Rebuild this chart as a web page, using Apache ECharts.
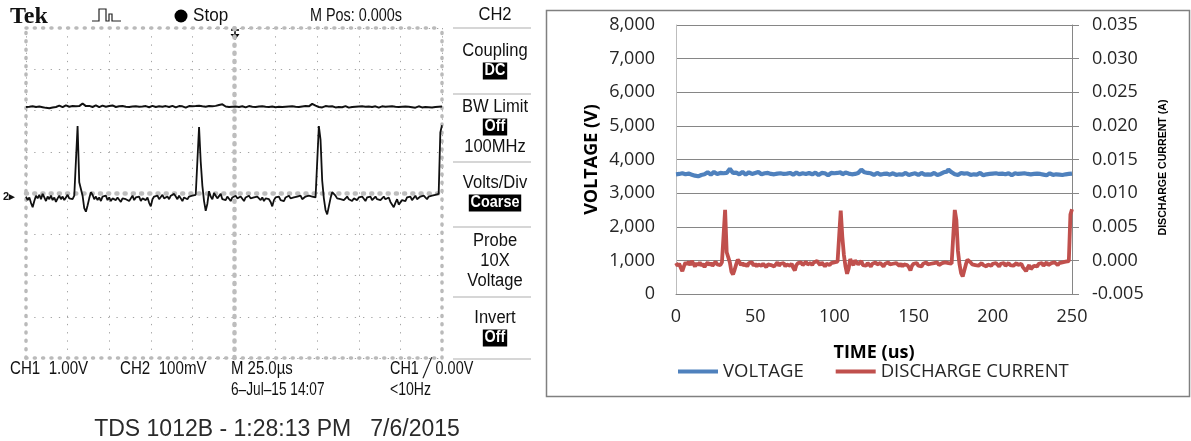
<!DOCTYPE html>
<html>
<head>
<meta charset="utf-8">
<script src="https://cdn.jsdelivr.net/npm/echarts@6/dist/echarts.min.js"></script>
<style>
html,body{margin:0;padding:0;background:#fff;}
#chart{width:1191px;height:441px;}
</style>
</head>
<body>
<div id="chart"></div>
<script>
// ---- Data (sampling clock: 1 us, 0..250 us) ----
const TIME_START_US = 0;
const TIME_STEP_US = 1;

// Voltage (V)
const voltage = [
  3560, 3600, 3570, 3540, 3590, 3610, 3560, 3530, 3580, 3600,
  3550, 3570, 3520, 3480, 3500, 3470, 3540, 3590, 3560, 3600,
  3620, 3580, 3550, 3600, 3630, 3590, 3570, 3610, 3600, 3580,
  3590, 3620, 3600, 3650, 3720, 3690, 3600, 3570, 3610, 3590,
  3560, 3600, 3630, 3580, 3550, 3590, 3620, 3600, 3570, 3540,
  3600, 3580, 3630, 3590, 3560, 3610, 3590, 3550, 3600, 3620,
  3570, 3590, 3560, 3600, 3580, 3550, 3590, 3610, 3570, 3600,
  3580, 3560, 3600, 3590, 3550, 3570, 3610, 3580, 3560, 3600,
  3590, 3620, 3570, 3550, 3600, 3580, 3560, 3590, 3610, 3570,
  3540, 3580, 3600, 3560, 3590, 3570, 3530, 3580, 3600, 3560,
  3590, 3570, 3600, 3580, 3620, 3560, 3590, 3610, 3570, 3580,
  3600, 3560, 3590, 3570, 3610, 3600, 3650, 3700, 3680, 3620,
  3580, 3600, 3560, 3590, 3570, 3540, 3580, 3600, 3560, 3550,
  3590, 3570, 3540, 3580, 3600, 3550, 3570, 3590, 3560, 3540,
  3580, 3560, 3590, 3550, 3570, 3600, 3560, 3540, 3580, 3570,
  3550, 3590, 3570, 3540, 3560, 3600, 3570, 3550, 3580, 3560,
  3590, 3550, 3570, 3600, 3560, 3540, 3580, 3570, 3600, 3620,
  3590, 3640, 3700, 3680, 3620, 3590, 3560, 3580, 3540, 3570,
  3600, 3560, 3580, 3550, 3590, 3570, 3540, 3580, 3560, 3590,
  3550, 3570, 3600, 3560, 3530, 3580, 3560, 3590, 3570, 3540,
  3580, 3560, 3590, 3550, 3570, 3540, 3580, 3600, 3560, 3550,
  3590, 3570, 3530, 3560, 3590, 3550, 3570, 3540, 3580, 3560,
  3590, 3550, 3570, 3540, 3560, 3590, 3570, 3550, 3580, 3540,
  3570, 3590, 3550, 3560, 3530, 3570, 3590, 3560, 3540, 3580,
  3560, 3590, 3550, 3570, 3540, 3580, 3560, 3590, 3570, 3560,
  3580
];

// Discharge current (A)
const current = [
  -0.0004, -0.0008, -0.0005, -0.0011, -0.0016, -0.0009, -0.0003, -0.0006, -0.0002, -0.0007,
  -0.0001, -0.0005, -0.0009, -0.0004, -0.0007, -0.0003, -0.0008, -0.0005, -0.0010, -0.0006,
  -0.0003, -0.0007, -0.0004, -0.0008, -0.0005, -0.0002, -0.0006, -0.0004, -0.0007, -0.0003,
  -0.0002, 0.0075, 0.0012, 0.0010, -0.0003, -0.0017, -0.0021, -0.0014, -0.0006, 0.0001,
  -0.0002, -0.0007, -0.0004, -0.0008, -0.0005, -0.0009, -0.0004, -0.0006, -0.0003, -0.0008,
  -0.0005, -0.0009, -0.0006, -0.0004, -0.0008, -0.0005, -0.0007, -0.0010, -0.0006, -0.0004,
  -0.0007, -0.0005, -0.0009, -0.0006, -0.0003, -0.0008, -0.0005, -0.0007, -0.0004, -0.0009,
  -0.0006, -0.0004, -0.0008, -0.0005, -0.0011, -0.0015, -0.0007, -0.0004, -0.0006, -0.0003,
  -0.0007, -0.0005, -0.0002, -0.0006, -0.0008, -0.0004, -0.0007, -0.0003, -0.0005, -0.0001,
  -0.0004, -0.0007, -0.0003, -0.0006, -0.0009, -0.0005, -0.0003, -0.0007, -0.0004, -0.0006,
  -0.0003, -0.0005, -0.0002, -0.0004, 0.0074, 0.0035, 0.0008, -0.0009, -0.0020, -0.0012,
  0.0002, -0.0004, -0.0007, 0.0000, -0.0003, -0.0006, -0.0004, -0.0001, -0.0007, -0.0005,
  -0.0008, -0.0004, -0.0006, -0.0009, -0.0005, -0.0007, -0.0003, -0.0006, -0.0008, -0.0004,
  -0.0006, -0.0009, -0.0005, -0.0007, -0.0003, -0.0006, -0.0008, -0.0005, -0.0007, -0.0004,
  -0.0006, -0.0008, -0.0005, -0.0009, -0.0006, -0.0004, -0.0007, -0.0010, -0.0015, -0.0008,
  -0.0005, -0.0007, -0.0004, -0.0008, -0.0006, -0.0009, -0.0005, -0.0007, -0.0003, -0.0006,
  -0.0008, -0.0005, -0.0007, -0.0004, -0.0006, -0.0003, -0.0007, -0.0005, -0.0004, -0.0006,
  -0.0003, -0.0005, -0.0004, -0.0002, -0.0005, -0.0003, 0.0075, 0.0060, 0.0014, -0.0006,
  -0.0019, -0.0024, -0.0015, -0.0006, 0.0001, 0.0002, -0.0003, -0.0006, -0.0004, -0.0007,
  -0.0005, -0.0008, -0.0006, -0.0004, -0.0007, -0.0005, -0.0009, -0.0006, -0.0004, -0.0008,
  -0.0005, -0.0007, -0.0004, -0.0006, -0.0009, -0.0005, -0.0007, -0.0004, -0.0008, -0.0006,
  -0.0004, -0.0007, -0.0005, -0.0008, -0.0006, -0.0004, -0.0007, -0.0009, -0.0005, -0.0010,
  -0.0012, -0.0016, -0.0011, -0.0007, -0.0013, -0.0015, -0.0008, -0.0006, -0.0009, -0.0005,
  -0.0007, -0.0004, -0.0008, -0.0006, -0.0003, -0.0007, -0.0005, -0.0004, -0.0006, -0.0003,
  -0.0005, -0.0007, -0.0004, -0.0006, -0.0003, -0.0005, -0.0002, -0.0004, -0.0001, 0.0068,
  0.0076
];

const seriesNames = ['VOLTAGE', 'DISCHARGE CURRENT'];
const xAxisTitle = 'TIME (us)';
const leftAxisTitle = 'VOLTAGE (V)';
const rightAxisTitle = 'DISCHARGE CURRENT (A)';

// Scope readouts
const scopeTop = ['Tek', 'Stop', 'M Pos: 0.000s'];
const scopeMenu = ['CH2', 'Coupling', 'DC', 'BW Limit', 'Off', '100MHz', 'Volts/Div', 'Coarse', 'Probe', '10X', 'Voltage', 'Invert', 'Off'];
const scopeBottom = ['CH1  1.00V', 'CH2  100mV', 'M 25.0\u00b5s', 'CH1 \u2571 0.00V', '6\u2013Jul\u201315 14:07', '<10Hz'];
const captureLine = 'TDS 1012B - 1:28:13 PM   7/6/2015';

// ---- Build ----
const time = voltage.map((_, i) => TIME_START_US + i * TIME_STEP_US);
const vPairs = time.map((t, i) => [t, voltage[i]]);
const iPairs = time.map((t, i) => [t, current[i]]);

const SCOPEF = "'Liberation Sans', Arial, sans-serif";
const XL = "'Open Sans', sans-serif";
const edge = { color: '#bababa', width: 3.5, type: [1, 7.32] };
const center = { color: '#bdbdbd', width: 4.5, type: [1, 7.22] };
const hidden = { show: false };

const chart = echarts.init(document.getElementById('chart'), null, { renderer: 'canvas' });

function txt(x, y, text, opt, sx) {
  opt = opt || {};
  return {
    type: 'text', x: x, y: y, silent: true, z: 10, scaleX: sx || 1,
    style: Object.assign({
      text: text, fill: '#111', fontFamily: SCOPEF, fontSize: 18,
      align: 'left', verticalAlign: 'middle'
    }, opt)
  };
}
function boxTxt(x, y, text) {
  return txt(x, y, text, { fill: '#fff', backgroundColor: '#000', padding: [1, 2, 0, 2], align: 'center', fontSize: 16, fontWeight: 'bold' }, 0.9);
}
function menuTxt(x, y, text) {
  return txt(x, y, text, { align: 'center', fontSize: 18 }, 0.92);
}
function sep(y) {
  return { type: 'line', silent: true, shape: { x1: 453, y1: y, x2: 531, y2: y }, style: { stroke: '#c8c8c8', lineWidth: 1.5 } };
}

const menuX = 495;
const RS = 0.8;
const graphics = [
  // Excel chart frame
  { type: 'rect', silent: true, shape: { x: 546.5, y: 10.5, width: 643, height: 386 }, style: { fill: 'none', stroke: '#808080', lineWidth: 1.5 } },
  // scope top bar
  txt(10, 17, scopeTop[0], { fontFamily: "'Liberation Serif', serif", fontWeight: 'bold', fontSize: 24 }),
  { type: 'polyline', silent: true, shape: { points: [[92, 21], [99, 21], [99, 9], [106, 9], [106, 21], [109, 21], [109, 14], [112, 14], [112, 21], [121, 21]] }, style: { stroke: '#222', lineWidth: 1.2, fill: 'none' } },
  { type: 'circle', silent: true, shape: { cx: 181, cy: 16, r: 6.5 }, style: { fill: '#000' } },
  txt(193, 16, scopeTop[1], {}, 0.95),
  txt(310, 16, scopeTop[2], {}, RS),
  // trigger position marker
  { type: 'line', silent: true, shape: { x1: 231, y1: 30, x2: 239, y2: 30 }, style: { stroke: '#000', lineWidth: 1.5 } },
  { type: 'line', silent: true, shape: { x1: 235, y1: 30, x2: 235, y2: 36 }, style: { stroke: '#000', lineWidth: 1.5 } },
  { type: 'polygon', silent: true, shape: { points: [[230.5, 34], [239.5, 34], [235, 40]] }, style: { fill: '#000' } },
  // ch2 ground marker
  txt(3, 197, '2\u25b8', { fontSize: 11, fontWeight: 'bold' }),
  // menu
  menuTxt(menuX, 15, scopeMenu[0]),
  sep(28),
  menuTxt(menuX, 51, scopeMenu[1]),
  boxTxt(menuX, 71, scopeMenu[2]),
  sep(94),
  menuTxt(menuX, 107, scopeMenu[3]),
  boxTxt(menuX, 127, scopeMenu[4]),
  menuTxt(menuX, 147, scopeMenu[5]),
  sep(162),
  menuTxt(menuX, 183, scopeMenu[6]),
  boxTxt(menuX, 203, scopeMenu[7]),
  sep(227),
  menuTxt(menuX, 241, scopeMenu[8]),
  menuTxt(menuX, 261, scopeMenu[9]),
  menuTxt(menuX, 281, scopeMenu[10]),
  sep(297),
  menuTxt(menuX, 318, scopeMenu[11]),
  boxTxt(menuX, 338, scopeMenu[12]),
  sep(359),
  // bottom readouts
  txt(10, 369, scopeBottom[0], {}, 0.84),
  txt(120, 369, scopeBottom[1], {}, 0.84),
  txt(231, 369, scopeBottom[2], {}, 0.83),
  txt(390, 369, scopeBottom[3], {}, 0.8),
  txt(231, 390, scopeBottom[4], {}, 0.76),
  txt(390, 390, scopeBottom[5], {}, 0.78),
  txt(277, 430, captureLine, { fontSize: 23, fill: '#2a2a2a', align: 'center' })
];

const option = {
  animation: false,
  backgroundColor: '#fff',
  grid: [
    { left: 26, top: 28, width: 416, height: 330, outerBoundsMode: 'none', containLabel: false },
    { left: 676, top: 25, width: 396, height: 269, outerBoundsMode: 'none', containLabel: false }
  ],
  legend: {
    data: seriesNames,
    left: 673, top: 357,
    icon: 'rect', itemWidth: 40, itemHeight: 4, itemGap: 32,
    textStyle: { fontFamily: XL, fontSize: 18.5, color: '#262626' },
    selectedMode: false
  },
  xAxis: [
    { type: 'value', gridIndex: 0, min: 0, max: 250, interval: 25, position: 'bottom',
      axisLine: { show: true, onZero: false, lineStyle: edge }, axisTick: hidden, axisLabel: hidden,
      splitLine: { show: true, lineStyle: { color: '#a4a4a4', width: 1, type: [1.3, 6.92] } } },
    { type: 'value', gridIndex: 0, min: 0, max: 250, position: 'top',
      axisLine: { show: true, onZero: false, lineStyle: edge }, axisTick: hidden, axisLabel: hidden, splitLine: hidden },
    { type: 'value', gridIndex: 0, min: -5, max: 5,
      axisLine: { show: true, onZero: true, onZeroAxisIndex: 2, lineStyle: center }, axisTick: hidden, axisLabel: hidden, splitLine: hidden },
    { type: 'value', gridIndex: 1, min: 0, max: 250, interval: 50, position: 'bottom',
      name: xAxisTitle, nameLocation: 'middle', nameGap: 50,
      nameTextStyle: { fontFamily: XL, fontSize: 18, fontWeight: 'bold', color: '#000' },
      axisLine: { show: true, onZero: false, lineStyle: { color: '#868686', width: 1 } }, axisTick: hidden,
      axisLabel: { margin: 14, fontFamily: XL, fontSize: 18, color: '#262626' }, splitLine: hidden }
  ],
  yAxis: [
    { type: 'value', gridIndex: 0, min: -7850, max: 7150, position: 'left',
      axisLine: { show: true, onZero: false, lineStyle: edge }, axisTick: hidden, axisLabel: hidden, splitLine: hidden },
    { type: 'value', gridIndex: 0, min: -0.0185, max: 0.0185, position: 'right',
      axisLine: { show: true, onZero: false, lineStyle: edge }, axisTick: hidden, axisLabel: hidden, splitLine: hidden },
    { type: 'value', gridIndex: 0, min: -4, max: 4, interval: 1, position: 'left',
      axisLine: { show: true, onZero: true, onZeroAxisIndex: 2, lineStyle: center },
      axisTick: hidden, axisLabel: hidden,
      splitLine: { show: true, lineStyle: { color: '#a4a4a4', width: 1, type: [1.3, 6.92] } } },
    { type: 'value', gridIndex: 1, min: 0, max: 8000, interval: 1000, position: 'left',
      name: leftAxisTitle, nameLocation: 'middle', nameGap: 75, nameRotate: 90,
      nameTextStyle: { fontFamily: XL, fontSize: 18, fontWeight: 'bold', color: '#000' },
      axisLine: { show: true, onZero: false, lineStyle: { color: '#bdbdbd', width: 1 } }, axisTick: hidden,
      axisLabel: { margin: 21, fontFamily: XL, fontSize: 18, color: '#262626',
        formatter: v => v.toLocaleString('en-US') },
      splitLine: { show: true, lineStyle: { color: '#868686', width: 1 } } },
    { type: 'value', gridIndex: 1, min: -0.005, max: 0.035, interval: 0.005, position: 'right',
      name: rightAxisTitle, nameLocation: 'middle', nameGap: 86, nameRotate: 90,
      nameTextStyle: { fontFamily: SCOPEF, fontSize: 10.6, fontWeight: 'bold', color: '#000', padding: [0, 16, 0, 0] },
      axisLine: { show: true, onZero: false, lineStyle: { color: '#868686', width: 1 } },
      axisTick: { show: true, inside: false, length: 7, lineStyle: { color: '#868686' } },
      axisLabel: { margin: 20, fontFamily: XL, fontSize: 18, color: '#262626',
        formatter: v => v.toFixed(3) },
      splitLine: hidden }
  ],
  series: [
    { name: 'CH1', type: 'line', xAxisIndex: 0, yAxisIndex: 0, data: vPairs, symbol: 'none', silent: true,
      lineStyle: { color: '#111', width: 2 }, z: 5 },
    { name: 'CH2', type: 'line', xAxisIndex: 0, yAxisIndex: 1, data: iPairs, symbol: 'none', silent: true,
      lineStyle: { color: '#111', width: 1.8 }, z: 5 },
    { name: seriesNames[0], type: 'line', xAxisIndex: 3, yAxisIndex: 3, data: vPairs, symbol: 'none',
      itemStyle: { color: '#4f81bd' }, lineStyle: { color: '#4f81bd', width: 4.2 } },
    { name: seriesNames[1], type: 'line', xAxisIndex: 3, yAxisIndex: 4, data: iPairs, symbol: 'none',
      itemStyle: { color: '#c0504d' }, lineStyle: { color: '#c0504d', width: 3.8 } }
  ],
  graphic: graphics
};
chart.setOption(option);
</script>
</body>
</html>
